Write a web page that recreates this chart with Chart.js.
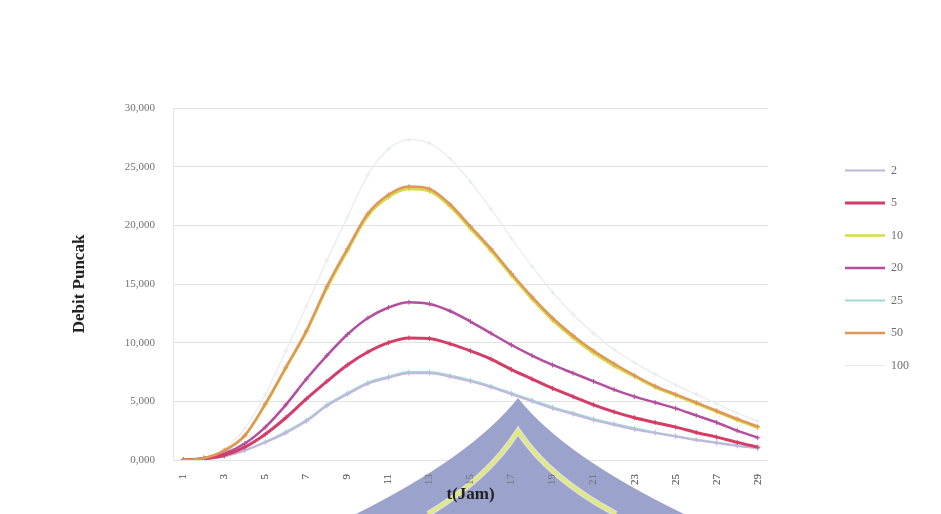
<!DOCTYPE html>
<html>
<head>
<meta charset="utf-8">
<script src="https://cdn.jsdelivr.net/npm/chart.js@4.4.1/dist/chart.umd.min.js"></script>
<style>
  html, body { margin: 0; padding: 0; background: #fff; }
  #wadah { width: 941px; height: 514px; position: relative; }
</style>
</head>
<body>
<div id="wadah"><canvas id="grafikDebit"></canvas></div>
<script>
// waktu (jam) dan debit per kala ulang
const waktu = ['1','2','3','4','5','6','7','8','9','10','11','12','13','14','15','16','17','18','19','20','21','22','23','24','25','26','27','28','29'];
const kalaUlang = ['2', '5', '10', '20', '25', '50', '100'];

const debit2   = [0, 0.08, 0.3, 0.8, 1.5, 2.3, 3.3, 4.6, 5.6, 6.5, 7.0, 7.4, 7.4, 7.1, 6.7, 6.2, 5.6, 5.0, 4.4, 3.9, 3.4, 3.0, 2.6, 2.3, 2.0, 1.7, 1.45, 1.2, 1.0];
const debit5   = [0, 0.1, 0.4, 1.1, 2.2, 3.6, 5.2, 6.7, 8.1, 9.2, 10.0, 10.4, 10.35, 9.9, 9.3, 8.6, 7.7, 6.9, 6.1, 5.4, 4.7, 4.1, 3.6, 3.2, 2.8, 2.35, 1.95, 1.5, 1.1];
const debit10  = [0, 0.15, 0.78, 2.05, 4.7, 7.8, 10.9, 14.6, 17.8, 20.8, 22.4, 23.1, 22.9, 21.6, 19.7, 17.8, 15.7, 13.7, 11.9, 10.4, 9.1, 8.0, 7.1, 6.2, 5.5, 4.8, 4.1, 3.4, 2.75];
const debit20  = [0, 0.15, 0.55, 1.4, 2.8, 4.7, 6.9, 8.9, 10.7, 12.1, 13.0, 13.45, 13.3, 12.7, 11.8, 10.8, 9.8, 8.9, 8.1, 7.4, 6.7, 6.0, 5.4, 4.9, 4.4, 3.8, 3.2, 2.5, 1.9];
const debit25  = [0, 0.09, 0.32, 0.85, 1.55, 2.4, 3.4, 4.7, 5.7, 6.6, 7.1, 7.5, 7.5, 7.2, 6.8, 6.3, 5.7, 5.1, 4.5, 4.0, 3.5, 3.1, 2.7, 2.35, 2.05, 1.75, 1.5, 1.25, 1.05];
const debit50  = [0, 0.15, 0.8, 2.1, 4.8, 7.9, 11.0, 14.8, 18.0, 21.0, 22.6, 23.3, 23.1, 21.8, 19.9, 18.0, 15.9, 13.9, 12.1, 10.6, 9.3, 8.2, 7.2, 6.3, 5.6, 4.9, 4.2, 3.5, 2.85];
const debit100 = [0, 0.2, 0.95, 2.7, 5.6, 9.3, 13.1, 17.0, 20.7, 24.3, 26.5, 27.3, 27.0, 25.7, 23.7, 21.4, 18.9, 16.5, 14.3, 12.4, 10.8, 9.4, 8.3, 7.3, 6.4, 5.6, 4.8, 4.0, 3.3];

const warna = ['#c3b6dd', '#d43d68', '#d3dc45', '#b24f9e', '#9fd9d5', '#e0955a', '#e7ebf0'];
const tebal = [2, 3, 2.5, 2.5, 2, 2.5, 1.2];
const urutan = [3, 1, 5, 2, 6, 0, 7];   // urutan gambar (kecil = di atas)

const semuaDebit = [debit2, debit5, debit10, debit20, debit25, debit50, debit100];
const hurufSerif = "'Liberation Serif', 'DejaVu Serif', serif";

// hiasan segitiga biru (bekas scan) di bawah sumbu x
const hiasanSegitiga = {
  id: 'hiasanSegitiga',
  afterDatasetsDraw(chart) {
    const ctx = chart.ctx;
    ctx.save();
    ctx.fillStyle = '#9ba3cc';
    ctx.beginPath();
    ctx.moveTo(518, 398);
    ctx.quadraticCurveTo(472, 456, 356, 514);
    ctx.lineTo(684, 514);
    ctx.quadraticCurveTo(564, 456, 518, 398);
    ctx.closePath();
    ctx.fill();

    ctx.beginPath();
    ctx.moveTo(428, 514);
    ctx.quadraticCurveTo(488, 478, 518, 431);
    ctx.quadraticCurveTo(549, 478, 616, 514);
    ctx.lineWidth = 6;
    ctx.strokeStyle = 'rgba(232,236,212,0.85)';
    ctx.stroke();
    ctx.lineWidth = 2.5;
    ctx.strokeStyle = '#e4ea6c';
    ctx.stroke();
    ctx.restore();

    // label sumbu x tetap terlihat di atas hiasan
    chart.scales.x.draw(chart.chartArea);
  }
};

const ctx = document.getElementById('grafikDebit').getContext('2d');

new Chart(ctx, {
  type: 'line',
  data: {
    labels: waktu,
    datasets: kalaUlang.map((k, i) => ({
      label: k,
      data: semuaDebit[i],
      borderColor: warna[i],
      backgroundColor: warna[i],
      borderWidth: tebal[i],
      pointStyle: 'cross',
      pointRadius: 2.5,
      pointBorderWidth: 1,
      cubicInterpolationMode: 'monotone',
      order: urutan[i]
    }))
  },
  options: {
    responsive: true,
    maintainAspectRatio: false,
    animation: false,
    layout: { padding: { left: 64, right: 22, top: 108, bottom: 0 } },
    plugins: {
      tooltip: { enabled: false },
      legend: {
        position: 'right',
        align: 'start',
        fullSize: false,
        title: { display: true, text: ' ', font: { size: 10 }, padding: 12 },
        labels: {
          usePointStyle: true,
          pointStyle: 'line',
          pointStyleWidth: 40,
          padding: 20.5,
          color: '#6e6e6e',
          font: { family: hurufSerif, size: 12 },
          sort: (a, b) => a.datasetIndex - b.datasetIndex,
          generateLabels: (chart) =>
            Chart.defaults.plugins.legend.labels.generateLabels(chart)
              .map(item => ({ ...item, lineWidth: tebal[item.datasetIndex] }))
        }
      }
    },
    scales: {
      x: {
        offset: true,
        grid: { display: false },
        border: { display: false },
        ticks: {
          autoSkip: false,
          minRotation: 90,
          maxRotation: 90,
          padding: 6,
          color: '#707070',
          font: { family: hurufSerif, size: 11 },
          callback: (val, idx) => (idx % 2 === 0 ? waktu[idx] : '')
        },
        title: {
          display: true,
          text: 't(Jam)',
          color: '#222',
          font: { family: hurufSerif, size: 17, weight: 'bold' },
          padding: { top: 0, bottom: 9 }
        },
        afterFit: (s) => { s.height = 54; }
      },
      y: {
        min: 0,
        max: 30,
        grid: { color: '#e2e2e2', lineWidth: 1, drawTicks: false },
        border: { display: true, color: '#e8e8e8' },
        ticks: {
          stepSize: 5,
          padding: 18,
          color: '#707070',
          font: { family: hurufSerif, size: 11 },
          callback: (v) => v.toFixed(3).replace('.', ',')
        },
        title: {
          display: true,
          text: 'Debit Puncak',
          color: '#222',
          font: { family: hurufSerif, size: 17, weight: 'bold' },
          padding: { top: 5, bottom: 0 }
        },
        afterFit: (s) => { s.width = 109; }
      },
      y2: {
        position: 'right',
        display: true,
        grid: { display: false },
        border: { display: false },
        ticks: { display: false },
        afterFit: (s) => { s.width = 56.5; }
      }
    }
  },
  plugins: [hiasanSegitiga]
});
</script>
</body>
</html>
